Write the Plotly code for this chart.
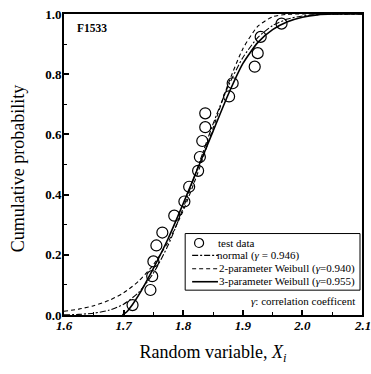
import plotly.graph_objects as go

# ---- data ----
test_x = [1.715, 1.745, 1.748, 1.750, 1.755, 1.765, 1.785, 1.802, 1.810, 1.825,
          1.828, 1.832, 1.837, 1.837, 1.877, 1.883, 1.920, 1.925, 1.930, 1.965]
test_y = [0.033, 0.083, 0.129, 0.178, 0.231, 0.274, 0.330, 0.377, 0.426, 0.479,
          0.525, 0.578, 0.624, 0.670, 0.726, 0.770, 0.825, 0.870, 0.924, 0.968]

curve_x = [1.600, 1.625, 1.650, 1.675, 1.700, 1.725, 1.750, 1.775, 1.800, 1.825, 1.850,
           1.875, 1.900, 1.925, 1.950, 1.975, 2.000, 2.025, 2.050, 2.075, 2.100]
normal_y = [0.0006, 0.0020, 0.0060, 0.0155, 0.0359, 0.0745, 0.1388, 0.2331, 0.3553, 0.4944, 0.6342,
            0.7580, 0.8548, 0.9214, 0.9617, 0.9834, 0.9935, 0.9978, 0.9993, 0.9998, 1.0000]
weib2_y = [0.0124, 0.0196, 0.0308, 0.0479, 0.0737, 0.1119, 0.1671, 0.2440, 0.3466, 0.4747, 0.6202,
           0.7650, 0.8841, 0.9588, 0.9909, 0.9990, 1.0000, 1.0000, 1.0000, 1.0000, 1.0000]

weib3_x = [1.698, 1.705, 1.715, 1.725, 1.750, 1.775, 1.800, 1.825, 1.850, 1.875,
           1.900, 1.925, 1.950, 1.975, 2.000, 2.025, 2.050, 2.100]
weib3_y = [0.000, 0.010, 0.035, 0.065, 0.155, 0.255, 0.370, 0.490, 0.610, 0.730,
           0.835, 0.905, 0.948, 0.974, 0.989, 0.997, 1.000, 1.000]

x_ticks = [1.6, 1.7, 1.8, 1.9, 2.0, 2.1]
x_tick_labels = ["1.6", "1.7", "1.8", "1.9", "2.0", "2.1"]
y_ticks = [0.0, 0.2, 0.4, 0.6, 0.8, 1.0]
y_tick_labels = ["0.0", "0.2", "0.4", "0.6", "0.8", "1.0"]

legend_labels = ["test data", "normal (<i>γ</i> = 0.946)",
                 "2-parameter Weibull (<i>γ</i>=0.940)", "3-parameter Weibull (<i>γ</i>=0.955)"]

SERIF = "Liberation Serif, Times New Roman, serif"
DASHDOT = "6px,2px,2px,2px"
DASH = "4px,3px"

fig = go.Figure()
fig.add_trace(go.Scatter(x=curve_x, y=normal_y, mode="lines", line=dict(color="black", width=1.1, dash=DASHDOT, shape="spline", smoothing=0.6), showlegend=False))
fig.add_trace(go.Scatter(x=curve_x, y=weib2_y, mode="lines", line=dict(color="black", width=1.1, dash=DASH, shape="spline", smoothing=0.6), showlegend=False))
fig.add_trace(go.Scatter(x=weib3_x, y=weib3_y, mode="lines", line=dict(color="black", width=1.6, shape="spline", smoothing=0.6), showlegend=False))
fig.add_trace(go.Scatter(x=test_x, y=test_y, mode="markers",
                         marker=dict(symbol="circle-open", size=11, color="black", line=dict(width=1.2)),
                         showlegend=False))

# plot area in the reference window: x 64..364, y 12..315
PX0, PW, PY0, PH = 64, 300, 315, 303


def px(x):
    return (x - PX0) / PW


def py(y):
    return (PY0 - y) / PH


# manual legend (box, samples, labels) in paper coordinates
shapes = [dict(type="rect", xref="paper", yref="paper", x0=px(186), x1=px(362), y0=py(290), y1=py(233),
               line=dict(color="black", width=1), fillcolor="white", layer="above")]
rows = [py(242.5), py(255), py(268.5), py(281.5)]
shapes.append(dict(type="circle", xref="paper", yref="paper", xsizemode="pixel", ysizemode="pixel",
                   xanchor=px(200), yanchor=rows[0], x0=-4.5, x1=4.5, y0=-4.5, y1=4.5,
                   line=dict(color="black", width=1.2), layer="above"))
for r, d, w in zip(rows[1:], [DASHDOT, DASH, "solid"], [1.1, 1.1, 1.6]):
    shapes.append(dict(type="line", xref="paper", yref="paper", x0=px(193), x1=px(219), y0=r, y1=r,
                       line=dict(color="black", width=w, dash=d), layer="above"))

annotations = []
text_x = [px(217), px(216), px(218), px(218)]
for tx, r, lab in zip(text_x, rows, legend_labels):
    annotations.append(dict(x=tx, y=r, xref="paper", yref="paper", text=lab, showarrow=False,
                            xanchor="left", yanchor="middle", font=dict(family=SERIF, size=11, color="black")))
annotations.append(dict(x=px(359), y=py(301), xref="paper", yref="paper",
                        text="<i>γ</i>: correlation coefficent", showarrow=False, xanchor="right", yanchor="middle",
                        font=dict(family=SERIF, size=11, color="black")))
annotations.append(dict(x=px(75), y=py(26), xref="paper", yref="paper",
                        text="<b>F1533</b>", showarrow=False, xanchor="left", yanchor="middle",
                        font=dict(family=SERIF, size=11.5, color="black")))
# y-axis title
annotations.append(dict(x=px(18), y=py(168), xref="paper", yref="paper", text="Cumulative probability",
                        textangle=-90, showarrow=False, xanchor="center", yanchor="middle",
                        font=dict(family=SERIF, size=18, color="black")))
# last x tick label sits on the page edge (clipped there, as in the reference)
annotations.append(dict(x=x_ticks[-1], y=0, xref="x", yref="paper", text="<i><b>%s</b></i>" % x_tick_labels[-1],
                        showarrow=False, xanchor="center", yanchor="top", yshift=-1,
                        font=dict(family=SERIF, size=13, color="black")))

fig.update_layout(
    width=371, height=374,
    margin=dict(l=64, r=7, t=12, b=59),
    plot_bgcolor="white", paper_bgcolor="white",
    shapes=shapes, annotations=annotations,
    font=dict(family=SERIF, color="black"),
)
fig.update_xaxes(range=[1.6, 2.1], tickvals=x_ticks,
                 ticktext=["<i><b>%s</b></i>" % t for t in x_tick_labels[:-1]] + [""],
                 ticks="inside", ticklen=5, tickwidth=1.5, tickcolor="black", ticklabelstandoff=-3,
                 minor=dict(dtick=0.05, ticks="inside", ticklen=3, tickwidth=1.2, tickcolor="black"),
                 showline=True, linecolor="black", linewidth=2, mirror=True, showgrid=False, zeroline=False,
                 tickfont=dict(family=SERIF, size=13, color="black"),
                 title=dict(text="Random variable, <i>X</i><sub><i>i</i></sub>", font=dict(family=SERIF, size=18, color="black"), standoff=14))
fig.update_yaxes(range=[0, 1.0], tickvals=y_ticks, ticktext=["<b>%s</b>" % t for t in y_tick_labels],
                 ticks="inside", ticklen=5, tickwidth=1.5, tickcolor="black", ticklabelstandoff=-2,
                 minor=dict(dtick=0.1, ticks="inside", ticklen=3, tickwidth=1.2, tickcolor="black"),
                 showline=True, linecolor="black", linewidth=2, mirror=True, showgrid=False, zeroline=False,
                 tickfont=dict(family=SERIF, size=13, color="black"))

fig.write_html("out.html", config={"displayModeBar": False},
               post_script="document.body.style.margin='0';")
